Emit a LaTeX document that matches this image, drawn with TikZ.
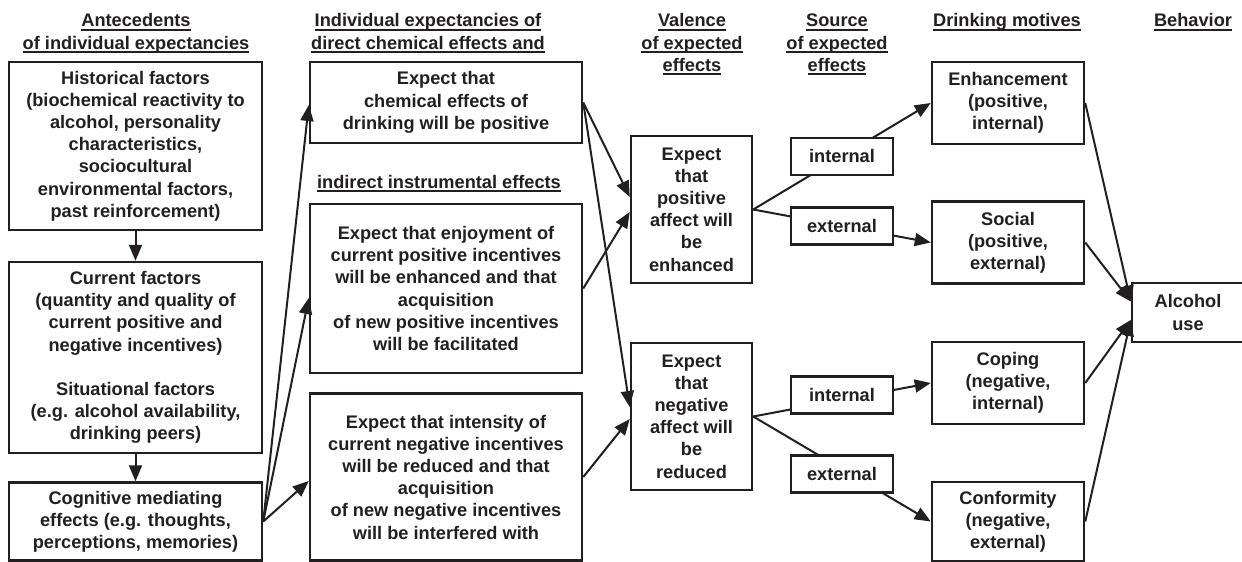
\documentclass[tikz,border=0pt]{standalone}
\usepackage{fontspec}
\setmainfont{Liberation Sans}
\usetikzlibrary{arrows.meta,calc}
\definecolor{ink}{RGB}{35,31,32}
\newcommand{\hul}[1]{\leavevmode\setbox0=\hbox{#1}\rlap{\color{ink}\rule[-4pt]{\wd0}{1.7pt}}\box0}
\begin{document}
\begin{tikzpicture}[x=1pt,y=-1pt,
  every node/.style={font=\fontsize{18.2}{22.2}\selectfont\bfseries, text=ink},
  box/.style={draw=ink, line width=2.5pt, fill=white, align=center, inner sep=0pt},
  srcbox/.style={box, minimum width=102pt, minimum height=37pt},
  hdr/.style={anchor=base, inner sep=0pt},
  arr/.style={draw=ink, line width=2pt, -{Triangle[length=16pt,width=13pt]}}]
\useasboundingbox (0,0) rectangle (1242,562);

% headers
\node[hdr] (h1a) at (136,27) {\hul{Antecedents}};
\node[hdr] (h1b) at (136,49) {\hul{of individual expectancies}};
\node[hdr] (h2a) at (428,27) {\hul{Individual expectancies of}};
\node[hdr] (h2b) at (428,49) {\hul{direct chemical effects and}};
\node[hdr] (h2c) at (439,188) {\hul{indirect instrumental effects}};
\node[hdr] (h3a) at (692,27) {\hul{Valence}};
\node[hdr] (h3b) at (692,49) {\hul{of expected}};
\node[hdr] (h3c) at (692,71) {\hul{effects}};
\node[hdr] (h4a) at (837,27) {\hul{Source}};
\node[hdr] (h4b) at (837,49) {\hul{of expected}};
\node[hdr] (h4c) at (837,71) {\hul{effects}};
\node[hdr] (h5a) at (1007,27) {\hul{Drinking motives}};
\node[hdr] (h6a) at (1193,27) {\hul{Behavior}};

% column 1
\node[box, minimum width=253pt, minimum height=168pt] (hist) at (135.5,146)
  {Historical factors\\(biochemical reactivity to\\alcohol, personality\\characteristics,\\sociocultural\\environmental factors,\\past reinforcement)};
\node[box, minimum width=253pt, minimum height=191pt] (curr) at (135.5,357.5)
  {Current factors\\(quantity and quality of\\current positive and\\negative incentives)\\[22pt]Situational factors\\(e.g. alcohol availability,\\drinking peers)};
\node[box, minimum width=253pt, minimum height=78pt] (cog) at (135.5,521.5)
  {Cognitive mediating\\effects (e.g. thoughts,\\perceptions, memories)};

% column 2
\node[box, minimum width=272pt, minimum height=81pt] (e1) at (446,102.5)
  {Expect that\\chemical effects of\\drinking will be positive};
\node[box, minimum width=272pt, minimum height=169pt] (e2) at (446,288.5)
  {Expect that enjoyment of\\current positive incentives\\will be enhanced and that\\acquisition\\of new positive incentives\\will be facilitated};
\node[box, minimum width=272pt, minimum height=167pt] (e3) at (446,477)
  {Expect that intensity of\\current negative incentives\\will be reduced and that\\acquisition\\of new negative incentives\\will be interfered with};

% column 3
\node[box, minimum width=121pt, minimum height=147pt] (pos) at (691.5,209.5)
  {Expect\\that\\positive\\affect will\\be\\enhanced};
\node[box, minimum width=121pt, minimum height=147pt] (neg) at (691.5,416.5)
  {Expect\\that\\negative\\affect will\\be\\reduced};

% column 5
\node[box, minimum width=152pt, minimum height=82pt] (enh) at (1008,103)
  {Enhancement\\(positive,\\internal)};
\node[box, minimum width=152pt, minimum height=82pt] (soc) at (1008,242.5)
  {Social\\(positive,\\external)};
\node[box, minimum width=152pt, minimum height=82pt] (cop) at (1008,383)
  {Coping\\(negative,\\internal)};
\node[box, minimum width=152pt, minimum height=79pt] (conf) at (1008,521.5)
  {Conformity\\(negative,\\external)};

% column 6
\node[box, minimum width=112pt, minimum height=59pt] (alc) at (1188,312.5)
  {Alcohol\\use};

% connectors column 1
\draw[arr] (hist.south) -- (curr.north);
\draw[arr] (curr.south) -- (cog.north);
\draw[arr] (cog.east) -- ([yshift=-2.5pt]e1.west);
\draw[arr] (cog.east) -- ([yshift=-9.5pt]e2.west);
\draw[arr] (cog.east) -- ([yshift=-4pt]e3.west);

% column 2 -> 3
\draw[arr] (e1.east) -- ([yshift=12.5pt]pos.west);
\draw[arr] (e1.east) -- ([yshift=9.5pt]neg.west);
\draw[arr] (e2.east) -- ([yshift=-2.5pt]pos.west);
\draw[arr] (e3.east) -- ([yshift=-2.5pt]neg.west);

% column 3 -> 5 via source boxes
\draw[arr] (pos.east) -- node[srcbox] (int1) {internal} (enh.west);
\draw[arr] (pos.east) -- node[srcbox] (ext1) {external} (soc.west);
\draw[arr] (neg.east) -- node[srcbox, yshift=4.7pt] (int2) {internal} (cop.west);
\draw[arr] (neg.east) -- node[srcbox, yshift=-5pt] (ext2) {external} (conf.west);

% column 5 -> 6
\draw[arr] (enh.east) -- ([yshift=11pt]alc.west);
\draw[arr] (soc.east) -- ([yshift=11pt]alc.west);
\draw[arr] (cop.east) -- ([yshift=-7.5pt]alc.west);
\draw[arr] (conf.east) -- ([yshift=-7.5pt]alc.west);
\end{tikzpicture}
\end{document}
